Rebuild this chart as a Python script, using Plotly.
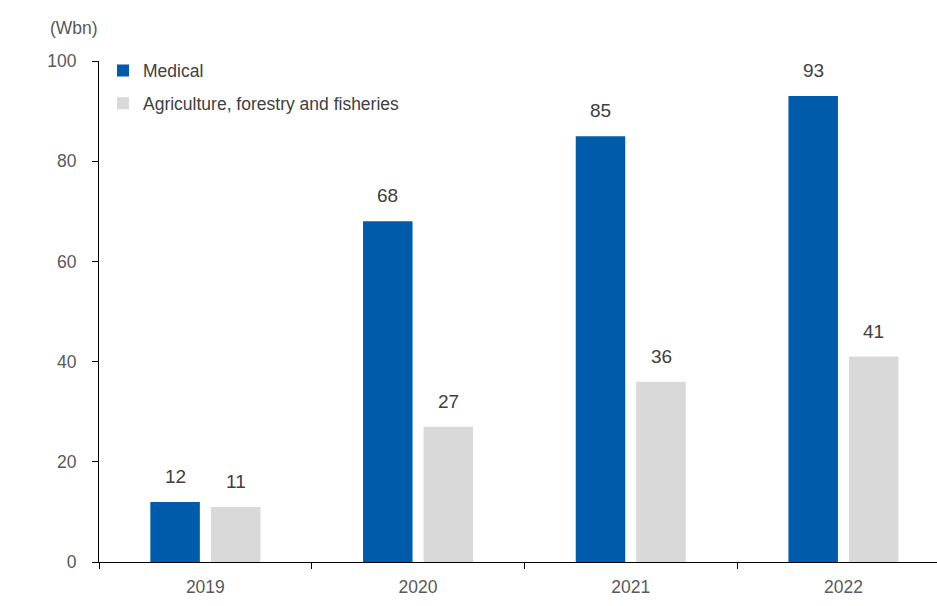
import plotly.graph_objects as go

# Annual amounts, in Wbn
years = ["2019", "2020", "2021", "2022"]
medical = [12, 68, 85, 93]
agriculture = [11, 27, 36, 41]
series_names = ["Medical", "Agriculture, forestry and fisheries"]
y_ticks = [0, 20, 40, 60, 80, 100]
unit_label = "(Wbn)"

BLUE = "#005BAB"
GREY = "#D9D9D9"
TEXT = "#595959"
LABEL = "#404040"
FONT = "Liberation Sans, Arial, sans-serif"
FS = 17.5
FS_LABEL = 19

W, H = 937, 606
L, R, T, B = 99, 0, 61, 44
plot_w = W - L - R
plot_h = H - T - B

BARGAP = 0.431
GROUPGAP = 0.182

fig = go.Figure()
fig.add_trace(go.Bar(x=years, y=medical, name=series_names[0],
                     marker=dict(color=BLUE, line=dict(width=0)),
                     legendgroup="a"))
fig.add_trace(go.Bar(x=years, y=agriculture, name=series_names[1],
                     marker=dict(color=GREY, line=dict(width=0)),
                     legendgroup="b"))

# value labels above each bar, shifted to the left/right slot of each group
cat_px = 212.7
offset = cat_px * (1 - BARGAP) / 4
annotations = []
for i, (m, a) in enumerate(zip(medical, agriculture)):
    annotations.append(dict(x=i, y=m, xref="x", yref="y", text=str(m),
                            showarrow=False, xshift=-offset, yshift=13,
                            yanchor="bottom",
                            font=dict(family=FONT, size=FS_LABEL, color=LABEL)))
    annotations.append(dict(x=i, y=a, xref="x", yref="y", text=str(a),
                            showarrow=False, xshift=offset, yshift=13,
                            yanchor="bottom",
                            font=dict(family=FONT, size=FS_LABEL, color=LABEL)))

annotations.append(dict(x=(74 - L) / plot_w, y=(H - B - 28) / plot_h,
                        xref="paper", yref="paper", text=unit_label,
                        showarrow=False, xanchor="center", yanchor="middle",
                        font=dict(family=FONT, size=FS, color=TEXT)))

right_edge = 3.5 - ((L + 4 * cat_px) - W) / cat_px

fig.update_layout(
    width=W, height=H,
    margin=dict(l=L, r=R, t=T, b=B, pad=0, autoexpand=False),
    paper_bgcolor="white", plot_bgcolor="white",
    barmode="group", bargap=BARGAP, bargroupgap=GROUPGAP,
    font=dict(family=FONT, size=FS, color=TEXT),
    showlegend=True,
    legend=dict(x=(103 - L) / plot_w, xanchor="left", xref="paper",
                y=1 - 52.5 / H, yanchor="top", yref="container",
                traceorder="grouped", tracegroupgap=7,
                bgcolor="rgba(0,0,0,0)", borderwidth=0,
                font=dict(family=FONT, size=FS, color=LABEL),
                itemwidth=30),
    annotations=annotations,
    xaxis=dict(type="category", range=[-0.5, right_edge],
               showline=True, linecolor="#000000", linewidth=1,
               ticks="outside", ticklen=6, tickcolor="#000000",
               tickson="boundaries", showgrid=False, zeroline=False,
               ticklabelstandoff=9,
               tickfont=dict(family=FONT, size=FS, color=TEXT)),
    yaxis=dict(range=[0, 100], tickvals=y_ticks,
               showline=True, linecolor="#000000", linewidth=1,
               ticks="outside", ticklen=6, tickcolor="#000000",
               showgrid=False, zeroline=False, ticklabelstandoff=12,
               tickfont=dict(family=FONT, size=FS, color=TEXT)),
)

fig.write_html("out.html")
